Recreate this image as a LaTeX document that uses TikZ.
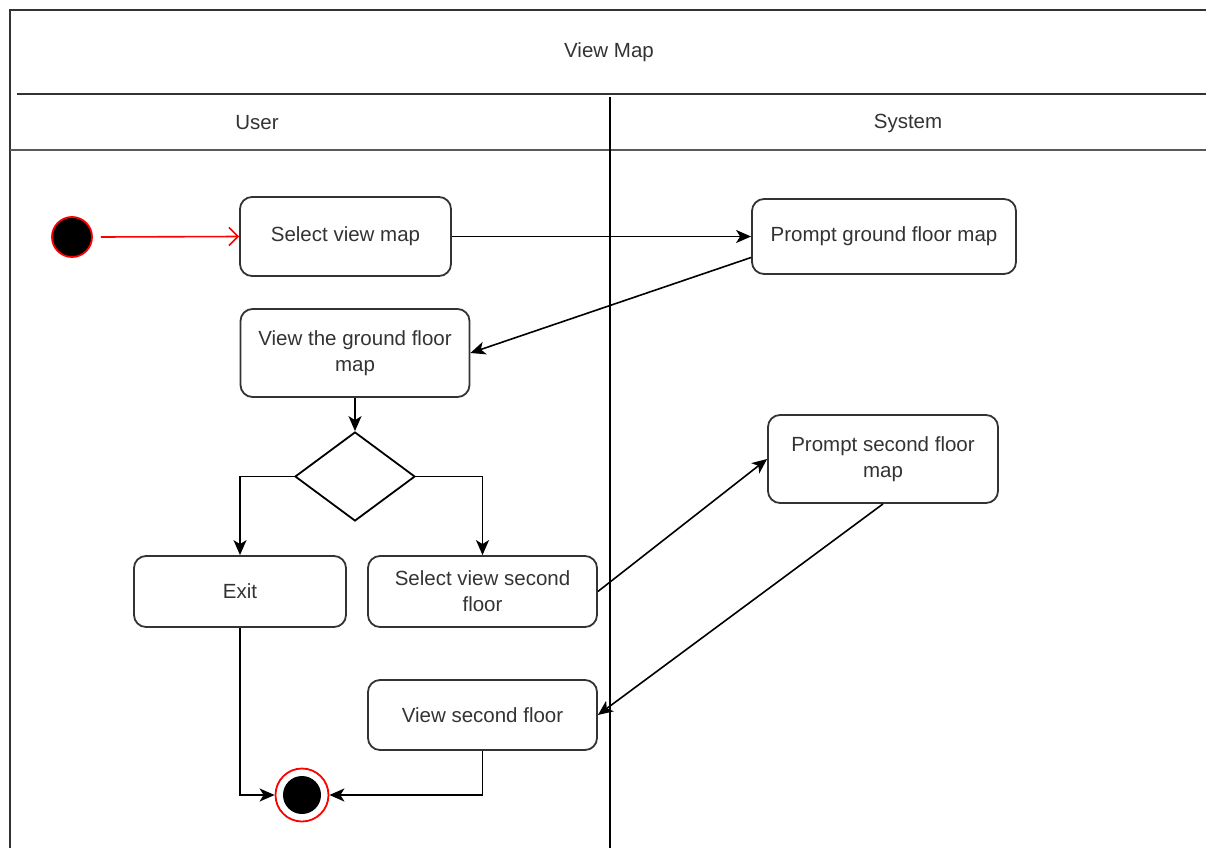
\documentclass[tikz,border=0pt]{standalone}
\usepackage{fontspec}
\setmainfont{Liberation Sans}
\usetikzlibrary{shapes.geometric,arrows.meta,calc}
\definecolor{ink}{HTML}{333333}
\begin{document}
\begin{tikzpicture}[x=1pt,y=-1pt,
  font=\fontsize{20.5}{26}\selectfont,
  act/.style={draw=ink,line width=1.8pt,rounded corners=12pt,align=center,text=ink,inner sep=0pt},
  flow/.style={draw=black,line width=1.6pt,-{Stealth[length=15pt,width=13pt,inset=4pt]}},
  lane/.style={draw=ink,line width=1.8pt}]
\useasboundingbox (0,0) rectangle (1206,848);
% frame
\draw[lane] (10,848) -- (10,10) -- (1206,10);
\draw[lane] (17,94) -- (1206,94);
\draw[draw=gray!70!black,line width=2.2pt] (10,150) -- (1206,150);
\draw[draw=black,line width=1.6pt] (610,97) -- (610,848);
\node[text=ink] (title) at (609,52) {View Map};
\node[text=ink] (user) at (257,123) {User};
\node[text=ink] (system) at (908,123) {System};
% nodes
\node[circle,draw=red,fill=black,line width=1.8pt,minimum size=40pt,inner sep=0pt] (start) at (72,237) {};
\node[act,minimum width=211pt,minimum height=79pt] (svm) at (345.5,236.5) {Select view map};
\node[act,minimum width=264pt,minimum height=75pt] (pg) at (884,236.5) {Prompt ground floor map};
\node[act,minimum width=229pt,minimum height=88pt] (vg) at (355,353) {View the ground floor\\map};
\node[diamond,draw=black,line width=1.8pt,minimum width=120pt,minimum height=89pt,inner sep=0pt] (dec) at (355,476.5) {};
\node[act,minimum width=212pt,minimum height=71pt] (exit) at (240,591.5) {Exit};
\node[act,minimum width=229pt,minimum height=71pt] (svs) at (482.5,591.5) {Select view second\\floor};
\node[act,minimum width=230pt,minimum height=88pt] (ps) at (883,459) {Prompt second floor\\map};
\node[act,minimum width=229pt,minimum height=70pt] (vsf) at (482.5,715) {View second floor};
\node[circle,draw=red,fill=white,line width=1.8pt,minimum size=53pt,inner sep=0pt] (end) at (302,795) {};
\fill[black] (end.center) circle (19);
% connectors
\draw[draw=red,line width=1.6pt,-{Straight Barb[length=9pt,width=18pt,line width=1.6pt]}] ($(start.east)+(8,0)$) -- (svm.west);
\draw[flow] (svm.east) -- (pg.west);
\draw[flow] ($(pg.west)+(0,21)$) -- (vg.east);
\draw[flow] (vg.south) -- (dec.north);
\draw[flow] (dec.west) -| (exit.north);
\draw[flow] (dec.east) -| (svs.north);
\draw[flow] (svs.east) -- (ps.west);
\draw[flow] (ps.south) -- (vsf.east);
\draw[flow] (exit.south) |- (end.west);
\draw[flow] (vsf.south) |- (end.east);
\end{tikzpicture}
\end{document}
